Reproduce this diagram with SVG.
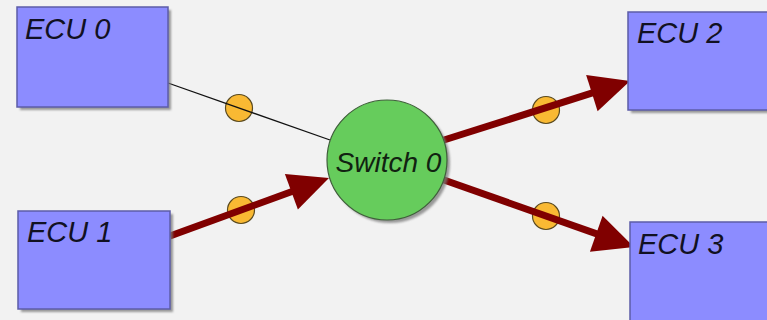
<svg xmlns="http://www.w3.org/2000/svg" width="767" height="320" viewBox="0 0 767 320">
  <style>
    .ecu { fill: #8c8cff; stroke: #5c5ca8; stroke-width: 1.5; }
    .shadow { fill: #7a7a7a; opacity: 0.75; filter: url(#soft); }
    .switch { fill: #66cc5c; stroke: #3f5f3a; stroke-width: 1.2; }
    .label { font-family: "Liberation Sans", Arial, sans-serif; font-style: italic; font-size: 29px; fill: #111122; }
    .sw-label { font-family: "Liberation Sans", Arial, sans-serif; font-style: italic; font-size: 28px; fill: #112211; text-anchor: middle; }
    .link { stroke: #111; stroke-width: 1.3; fill: none; }
    .flow { stroke: #800000; stroke-width: 7; fill: none; marker-end: url(#head); }
    .port { fill: #f9b933; stroke: #5a4a20; stroke-width: 1.2; }
  </style>
  <defs>
    <filter id="soft" x="-10%" y="-10%" width="120%" height="120%">
      <feGaussianBlur stdDeviation="0.8"/>
    </filter>
    <marker id="head" markerUnits="userSpaceOnUse" markerWidth="40" markerHeight="38" refX="8" refY="19" orient="auto" overflow="visible">
      <path d="M0,0 L40,19 L0,38 Z" fill="#800000"/>
    </marker>
  </defs>

  <rect width="767" height="320" fill="#f2f2f2"/>

  <!-- connector ports -->
  <g id="ports">
    <circle class="port" cx="239" cy="108" r="13.5"/>
    <circle class="port" cx="241" cy="210" r="13.5"/>
    <circle class="port" cx="546" cy="110" r="13.5"/>
    <circle class="port" cx="546" cy="216" r="13.5"/>
  </g>

  <!-- connectors -->
  <g id="connectors">
    <line class="link" x1="168" y1="83" x2="330" y2="140"/>
    <line class="flow" x1="170" y1="236" x2="298.9" y2="189"/>
    <line class="flow" x1="444" y1="140" x2="599.5" y2="90.7"/>
    <line class="flow" x1="444" y1="180" x2="603.8" y2="236.4"/>
  </g>

  <g id="ecu0">
    <rect class="shadow" x="20" y="10" width="151" height="100"/>
    <rect class="ecu" x="17" y="7" width="151" height="100"/>
    <text class="label" x="25" y="39">ECU 0</text>
  </g>

  <g id="ecu1">
    <rect class="shadow" x="21" y="214" width="152" height="98"/>
    <rect class="ecu" x="18" y="211" width="152" height="98"/>
    <text class="label" x="27" y="242">ECU 1</text>
  </g>

  <g id="ecu2">
    <rect class="shadow" x="631" y="15" width="151" height="98"/>
    <rect class="ecu" x="628" y="12" width="151" height="98"/>
    <text class="label" x="637" y="43">ECU 2</text>
  </g>

  <g id="ecu3">
    <rect class="shadow" x="633" y="225" width="151" height="100"/>
    <rect class="ecu" x="630" y="222" width="151" height="100"/>
    <text class="label" x="638" y="254">ECU 3</text>
  </g>

  <g id="switch0">
    <circle class="shadow" cx="390" cy="163" r="60"/>
    <circle class="switch" cx="387" cy="160" r="60"/>
    <text class="sw-label" x="388.5" y="172">Switch 0</text>
  </g>
</svg>
